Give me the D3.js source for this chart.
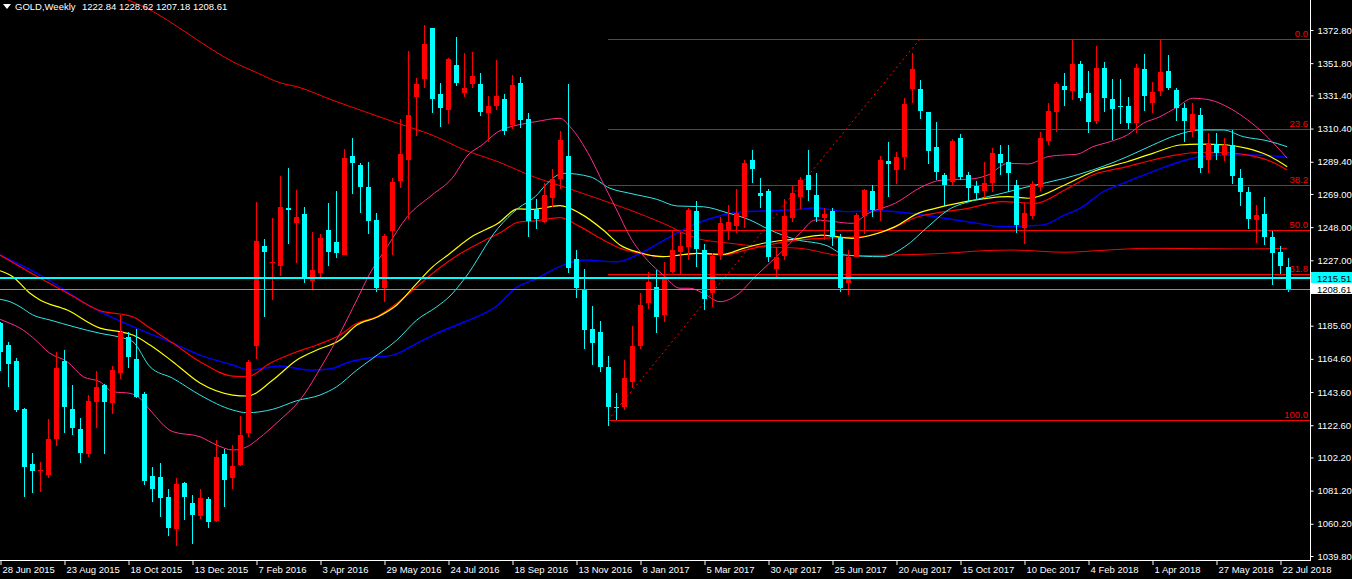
<!DOCTYPE html>
<html><head><meta charset="utf-8">
<script src="https://cdn.jsdelivr.net/npm/d3@7"></script>
<style>
html,body{margin:0;padding:0;background:#000;overflow:hidden;}
svg{display:block;font-family:"Liberation Sans",Arial,sans-serif;}
</style></head><body>
<svg id="c" width="1352" height="579"></svg>
<script>
// ---------- DATA ----------
const symbolName = "GOLD,Weekly";
const headerValues = ["1222.84", "1228.62", "1207.18", "1208.61"];

const opens = [1187.1,1173.4,1163.3,1132.8,1098.0,1093.3,1091.1,1113.9,1163.3,1132.8,1120.2,1104.4,1137.3,1148.0,1136.7,1155.6,1178.4,1164.5,1142.4,1090.4,1089.8,1077.3,1057.1,1086.2,1073.3,1065.3,1076.1,1061.9,1104.4,1089.4,1097.4,1117.9,1172.9,1236.0,1225.5,1223.2,1260.1,1250.8,1256.3,1214.2,1219.2,1246.2,1238.6,1230.6,1293.0,1287.3,1273.4,1252.5,1209.3,1245.6,1277.4,1290.5,1330.6,1342.0,1373.9,1332.3,1322.2,1350.6,1333.1,1338.4,1338.6,1320.4,1324.9,1329.1,1312.7,1339.2,1316.3,1259.3,1251.4,1266.7,1278.3,1292.8,1227.6,1208.2,1183.5,1181.6,1159.6,1134.3,1134.3,1150.1,1172.9,1200.2,1210.1,1192.4,1219.8,1232.0,1235.6,1258.2,1233.5,1206.5,1230.3,1246.2,1248.7,1254.6,1290.5,1269.4,1270.9,1221.3,1229.9,1254.0,1267.2,1281.0,1268.3,1254.0,1258.2,1241.6,1212.4,1229.3,1255.0,1270.9,1258.8,1290.1,1284.2,1292.6,1335.3,1335.3,1320.9,1298.9,1281.0,1276.4,1304.3,1281.0,1274.0,1271.1,1275.7,1294.1,1289.4,1274.7,1247.6,1255.2,1273.6,1302.7,1321.1,1337.5,1334.4,1351.3,1332.7,1315.2,1348.5,1328.9,1324.7,1324.7,1313.7,1347.9,1326.8,1334.4,1346.8,1334.8,1323.2,1308.9,1319.0,1290.5,1300.6,1293.7,1300.0,1278.9,1270.4,1252.5,1256.3,1241.6,1232.1,1222.84];
const highs = [1188.0,1175.3,1165.3,1133.5,1105.0,1099.3,1126.5,1168.9,1170.2,1148.0,1127.2,1141.7,1156.9,1148.5,1160.1,1192.4,1181.4,1183.5,1143.8,1096.1,1098.7,1082.0,1089.2,1086.8,1078.6,1082.4,1077.3,1113.2,1107.5,1110.1,1128.4,1164.1,1263.7,1240.5,1253.6,1280.4,1285.2,1271.5,1260.5,1244.9,1243.6,1263.0,1270.9,1297.5,1304.4,1288.8,1289.4,1256.8,1243.5,1278.9,1316.3,1359.5,1342.6,1375.9,1374.2,1339.0,1355.0,1368.4,1358.4,1358.9,1345.6,1331.0,1353.8,1332.3,1344.3,1343.0,1320.4,1265.6,1275.7,1284.6,1308.9,1338.6,1233.3,1221.5,1198.1,1188.6,1166.4,1142.8,1163.9,1185.4,1206.5,1219.6,1220.9,1226.1,1245.6,1245.1,1259.9,1264.5,1237.1,1231.4,1254.6,1262.0,1271.9,1290.5,1296.8,1279.3,1271.9,1235.6,1265.6,1274.7,1280.0,1296.8,1282.1,1259.9,1259.9,1243.5,1233.5,1256.8,1271.9,1274.7,1293.0,1301.9,1295.6,1329.5,1358.4,1341.1,1320.9,1314.4,1282.1,1303.8,1307.0,1283.1,1277.4,1289.0,1297.9,1300.0,1300.0,1277.8,1263.1,1277.4,1308.0,1326.4,1340.1,1345.4,1366.5,1353.2,1346.8,1362.6,1352.7,1341.6,1341.6,1330.6,1351.3,1357.6,1340.1,1366.5,1357.0,1335.9,1326.4,1326.4,1323.2,1307.4,1307.4,1304.2,1309.5,1284.6,1273.6,1262.0,1266.9,1245.7,1236.0,1228.62];
const lows = [1157.1,1147.0,1131.0,1077.4,1079.9,1080.5,1089.4,1109.6,1117.9,1116.4,1098.9,1102.7,1121.0,1104.4,1129.7,1151.7,1159.0,1140.0,1084.7,1074.2,1064.7,1052.6,1046.3,1062.5,1047.6,1063.4,1057.7,1061.5,1071.0,1082.4,1096.8,1115.3,1164.3,1191.3,1201.9,1217.1,1237.3,1225.5,1212.4,1208.2,1215.0,1223.6,1228.2,1230.3,1269.0,1257.1,1243.7,1207.1,1200.4,1230.3,1272.8,1253.1,1305.9,1335.9,1320.4,1311.6,1313.1,1337.5,1330.6,1336.3,1318.5,1302.1,1322.2,1306.1,1310.0,1311.0,1241.9,1246.6,1250.4,1261.0,1272.0,1219.1,1203.3,1170.8,1160.7,1156.5,1122.3,1125.9,1132.2,1146.0,1170.7,1196.0,1180.8,1188.1,1218.8,1217.7,1227.2,1223.0,1195.5,1197.6,1227.2,1239.9,1244.1,1247.3,1275.7,1260.3,1226.1,1215.0,1227.2,1251.0,1259.3,1264.5,1251.4,1239.9,1236.0,1207.1,1205.0,1228.9,1243.6,1254.6,1252.1,1267.3,1275.3,1284.0,1326.8,1316.3,1288.0,1277.8,1261.6,1274.7,1277.8,1264.1,1265.6,1266.6,1270.4,1281.0,1270.4,1244.1,1237.1,1253.0,1271.0,1300.0,1308.4,1324.7,1328.5,1327.8,1307.4,1313.3,1321.1,1303.2,1313.3,1310.0,1307.8,1321.8,1320.4,1331.0,1334.8,1315.4,1302.1,1304.9,1282.0,1282.5,1290.5,1290.1,1275.3,1261.4,1246.8,1237.8,1236.7,1211.4,1218.3,1207.18];
const closes = [1169.1,1161.5,1132.1,1096.3,1093.8,1094.2,1113.9,1159.0,1134.3,1121.0,1105.0,1137.9,1147.0,1137.3,1157.5,1181.4,1165.8,1140.6,1087.5,1082.4,1076.7,1057.7,1085.6,1077.3,1066.0,1076.7,1061.5,1102.5,1088.1,1096.8,1116.4,1162.8,1239.2,1232.4,1226.1,1260.8,1258.9,1254.6,1216.6,1220.9,1241.3,1232.4,1231.8,1291.6,1288.8,1273.6,1252.0,1209.3,1242.4,1276.4,1294.1,1319.0,1338.4,1363.9,1329.3,1323.6,1354.4,1339.4,1336.1,1343.7,1320.9,1324.9,1331.0,1308.7,1338.0,1315.8,1252.1,1253.0,1268.3,1278.5,1303.2,1222.3,1209.3,1182.9,1174.8,1159.6,1134.3,1133.3,1152.3,1172.6,1198.7,1213.5,1191.3,1215.6,1233.5,1236.2,1258.8,1234.1,1202.5,1229.7,1250.8,1251.4,1256.8,1288.8,1284.8,1267.7,1229.3,1228.9,1255.2,1269.8,1277.8,1271.3,1254.6,1256.3,1241.9,1209.7,1229.3,1255.7,1271.5,1258.8,1290.5,1288.0,1292.6,1326.0,1347.9,1321.7,1296.4,1283.1,1274.7,1302.5,1279.9,1273.0,1269.4,1275.7,1294.7,1288.8,1282.5,1249.3,1257.1,1275.2,1304.6,1321.5,1338.6,1334.6,1351.3,1329.9,1314.7,1348.5,1329.9,1322.8,1323.9,1314.1,1348.5,1331.2,1333.7,1346.4,1335.9,1323.2,1315.4,1319.6,1285.2,1300.6,1295.1,1300.0,1280.6,1270.4,1253.1,1255.7,1241.6,1231.8,1223.6,1208.61];

const dateLabels = ["28 Jun 2015","23 Aug 2015","18 Oct 2015","13 Dec 2015","7 Feb 2016","3 Apr 2016","29 May 2016","24 Jul 2016","18 Sep 2016","13 Nov 2016","8 Jan 2017","5 Mar 2017","30 Apr 2017","25 Jun 2017","20 Aug 2017","15 Oct 2017","10 Dec 2017","4 Feb 2018","1 Apr 2018","27 May 2018","22 Jul 2018"];
const barsPerDateLabel = 8;
const priceTicks = [1372.80,1351.80,1331.40,1310.40,1289.40,1269.00,1248.00,1227.00,1206.60,1185.60,1164.60,1143.60,1122.60,1102.20,1081.20,1060.20,1039.80];

const askPrice = 1215.51, bidPrice = 1208.61;
const fibLevels = [0, 23.6, 38.2, 50.0, 61.8, 100.0];
const fibHigh = 1367.1, fibLow = 1125.9, fibLowBar = 76, fibHighBar = 115;

// moving averages as [bar, value]
const ma200 = [[14,1396.6],[16,1391.8],[18.4,1386.5],[20.9,1379.1],[23.75,1369.6],[26.6,1360.1],[29.1,1352.7],[32.1,1345.8],[35,1339.4],[37.25,1336.7],[41.5,1328.5],[45.6,1321.1],[49.75,1313.7],[54,1306.3],[58.1,1296.8],[62.25,1289.4],[66.9,1279.5],[70.4,1273.6],[74.6,1266.3],[78.75,1258.8],[82.9,1250.4],[87.1,1240.9],[91.25,1237.8],[95.4,1235.6],[100,1234.6],[105.6,1229.9],[111.9,1230.4],[118.1,1231.4],[122.25,1232.9],[126.5,1233.5],[133.1,1232.1],[138.4,1233.5],[143.75,1234.6],[155.4,1234.2],[160.9,1234.6]];
const maPink = [[0,1189.6],[1.25,1187.1],[2.5,1184.1],[4.1,1178.1],[6.25,1168.1],[8.4,1162.8],[10.4,1153.3],[12.5,1150.1],[14.1,1143.8],[16.25,1142.8],[17.5,1139.6],[18.75,1132.2],[21.6,1118.5],[25,1115.3],[27.1,1110.0],[29.1,1106.9],[30.9,1109.0],[32.1,1113.2],[33.75,1120.2],[35,1125.9],[37.5,1138.6],[40.4,1161.8],[42.5,1180.8],[44.6,1201.9],[46.25,1218.8],[48.4,1235.6],[50.9,1254.6],[54,1268.3],[56.5,1278.9],[58.5,1293.7],[60.25,1300.0],[62.25,1308.4],[64.75,1312.7],[66.9,1314.7],[70,1316.9],[71.25,1311.6],[73.75,1292.6],[75.4,1275.7],[77.1,1258.8],[78.75,1241.9],[80.9,1227.2],[82.9,1217.7],[85,1209.3],[86.25,1209.3],[87.9,1206.1],[90,1200.8],[92.1,1205.0],[94.6,1217.7],[97.5,1231.4],[100,1244.1],[101.9,1252.5],[104.4,1251.4],[106.5,1250.4],[108.5,1256.7],[111.9,1263.1],[115.25,1273.6],[117.75,1277.8],[121,1278.3],[123.5,1281.0],[126,1288.4],[128.5,1288.0],[131,1292.6],[133.1,1293.7],[134.6,1294.1],[136.6,1298.9],[138.75,1302.1],[140.9,1306.3],[142.9,1313.7],[145,1317.9],[147.1,1323.9],[149.1,1329.6],[151.25,1328.5],[153.4,1324.2],[155.4,1317.9],[157.5,1309.5],[159.6,1298.9],[160.9,1291.6]];
const maAqua = [[0,1202.3],[1.25,1200.8],[2.5,1197.6],[4.1,1192.4],[6.25,1189.2],[12.5,1180.8],[15,1178.3],[16.6,1175.5],[18.75,1159.6],[21.6,1152.3],[25,1141.7],[29.1,1132.2],[30.9,1130.5],[34.1,1132.7],[37.1,1138.1],[40,1141.7],[42.1,1147.0],[44.6,1157.5],[46.6,1165.0],[49.6,1176.5],[52.1,1189.2],[54.6,1197.6],[56.25,1204.4],[58.1,1215.6],[62.25,1247.3],[64.75,1259.9],[66.9,1267.3],[68.4,1275.7],[70.4,1282.1],[73.75,1279.9],[76.25,1272.6],[78.75,1269.4],[82.1,1265.6],[84.6,1261.4],[87.9,1260.9],[90.9,1257.1],[93.75,1252.5],[96.25,1246.2],[99.4,1240.3],[103.5,1236.0],[105.6,1230.4],[110.25,1229.3],[113.1,1235.6],[116,1248.3],[118.5,1258.8],[121.9,1265.2],[125.25,1269.4],[128.5,1273.6],[133.1,1278.9],[136.6,1284.2],[140.9,1292.6],[144.1,1300.0],[147.1,1306.3],[150,1309.5],[152.9,1309.5],[155.4,1305.3],[158.4,1302.7],[160.9,1298.9]];
const maYellow = [[0,1220.4],[1.6,1216.6],[3.75,1206.1],[5,1201.9],[8.4,1195.5],[12.5,1184.1],[15,1181.8],[16.6,1179.7],[18.75,1173.4],[21.6,1162.8],[25,1149.3],[29.1,1141.7],[30.9,1141.1],[34.1,1151.2],[37.1,1163.9],[39.6,1170.2],[42.5,1176.5],[44.6,1186.0],[47.1,1190.9],[49.6,1198.7],[52.1,1212.4],[54.1,1223.0],[56,1230.4],[59,1242.0],[62.25,1250.4],[64.75,1259.5],[66.5,1259.3],[70,1261.6],[72.5,1256.7],[75.4,1246.2],[77.5,1236.7],[80,1231.8],[82.9,1229.3],[87.1,1231.4],[90.4,1230.8],[92.9,1234.6],[95.4,1237.8],[100,1240.9],[102.75,1243.0],[106.5,1240.9],[109.75,1244.1],[111.9,1248.3],[114.75,1256.7],[116.9,1259.9],[120.25,1263.7],[126,1267.3],[128.5,1266.3],[133.1,1274.7],[136.6,1283.1],[140.9,1289.4],[144.1,1294.7],[147.5,1300.0],[150,1300.6],[153.4,1300.0],[155.9,1297.9],[158.4,1293.7],[160.9,1286.3]];
const maRed = [[0,1230.4],[5,1215.8],[8.4,1206.3],[12.9,1194.5],[15,1193.0],[16.6,1191.3],[18.75,1184.1],[21.6,1174.6],[25,1162.8],[29.1,1153.7],[30.9,1153.3],[33.75,1161.8],[37.1,1169.1],[39.6,1173.4],[42.5,1179.7],[44.6,1187.1],[47.1,1191.3],[49.6,1199.8],[52.1,1210.3],[54.6,1220.9],[57.25,1230.4],[60.25,1238.8],[62.75,1245.1],[64.75,1251.1],[66.9,1251.9],[70,1254.0],[72.5,1248.3],[75.4,1239.9],[77.5,1234.6],[80,1231.4],[82.9,1229.3],[87.1,1231.4],[90.4,1230.4],[92.9,1233.1],[95.4,1236.0],[100,1239.9],[102.75,1240.9],[107.75,1242.0],[111,1246.2],[114.75,1254.6],[117.25,1257.1],[121,1259.9],[125.25,1264.1],[129.4,1263.1],[133.1,1271.5],[136.6,1281.0],[140.9,1286.3],[144.1,1290.5],[147.1,1293.7],[150,1295.4],[153.4,1295.1],[155.9,1293.7],[158.4,1290.5],[160.9,1284.2]];
const maBlue = [[0,1230.4],[5,1217.7],[12.5,1194.5],[16.6,1185.0],[21.6,1174.6],[25,1167.0],[29.1,1160.7],[31.25,1157.5],[35,1160.1],[38.75,1157.5],[41.25,1158.2],[43.75,1162.8],[46.25,1165.3],[49.1,1167.0],[52.1,1174.4],[54.6,1180.8],[58.1,1188.1],[62.25,1198.7],[64.4,1209.3],[66.9,1215.0],[70.4,1224.0],[72.9,1227.2],[77.1,1226.1],[80.4,1232.4],[83.75,1241.9],[87.1,1250.4],[90.4,1255.7],[92.9,1257.8],[95.4,1258.2],[100,1259.3],[101.9,1260.3],[105.6,1257.8],[109.75,1258.4],[114,1256.7],[118.1,1253.6],[122.25,1250.4],[125.25,1248.3],[130.25,1249.3],[133.1,1255.7],[135,1259.9],[137.9,1270.4],[140.9,1276.8],[144.1,1283.1],[147.5,1289.4],[150,1292.6],[153.4,1293.7],[156.6,1293.7],[159.1,1293.1],[160.9,1292.2]];

// ---------- DRAW ----------
const W = 1352, H = 579, plotR = 1310, plotB = 560;
const svg = d3.select("#c");
svg.append("rect").attr("width", W).attr("height", H).attr("fill", "#000");

const x = d3.scaleLinear().domain([0, 161]).range([0, 1288]);
const y = d3.scaleLinear().domain([1039.8, 1372.8]).range([556, 30]);

svg.append("defs").append("clipPath").attr("id", "plot")
  .append("rect").attr("x", 0).attr("y", 0).attr("width", plotR).attr("height", plotB);

const g = svg.append("g").attr("clip-path", "url(#plot)");

// Fibonacci levels
const fibPrice = l => fibHigh - l / 100 * (fibHigh - fibLow);
const fibG = g.append("g");
fibG.selectAll("line").data(fibLevels).join("line")
  .attr("x1", Math.round(x(fibLowBar))).attr("x2", plotR)
  .attr("y1", d => Math.round(y(fibPrice(d))) + 0.5).attr("y2", d => Math.round(y(fibPrice(d))) + 0.5)
  .attr("stroke", "#ff0000").attr("stroke-width", 1).attr("shape-rendering", "crispEdges");
fibG.selectAll("text").data(fibLevels).join("text")
  .attr("x", plotR - 2).attr("y", d => Math.round(y(fibPrice(d))) - 2)
  .attr("text-anchor", "end").attr("fill", "#ff0000").attr("font-size", "9.5px")
  .text(d => d3.format(".1f")(d));
// fib trend line (dotted)
g.append("line")
  .attr("x1", x(fibLowBar)).attr("y1", y(fibLow))
  .attr("x2", x(fibHighBar)).attr("y2", y(fibHigh))
  .attr("stroke", "#ff0000").attr("stroke-width", 1).attr("stroke-dasharray", "2,3");

// moving averages
const lineGen = d3.line().x(d => x(d[0])).y(d => y(d[1])).curve(d3.curveMonotoneX);
const mas = [
  {data: ma200, color: "#ff0000", w: 1},
  {data: maBlue, color: "#0000ff", w: 1.4},
  {data: maRed, color: "#ff0000", w: 1.2},
  {data: maYellow, color: "#ffff00", w: 1.2},
  {data: maAqua, color: "#2fe6e6", w: 1},
  {data: maPink, color: "#ff2a8a", w: 1}
];
g.selectAll("path.ma").data(mas).join("path").attr("class", "ma")
  .attr("d", d => lineGen(d.data)).attr("fill", "none")
  .attr("stroke", d => d.color).attr("stroke-width", d => d.w);

// candles
const idx = d3.range(opens.length);
const bull = i => closes[i] >= opens[i];
const col = i => bull(i) ? "#ff0000" : "#00ffff";
const cg = g.append("g").attr("shape-rendering", "crispEdges");
cg.selectAll("rect.wick").data(idx).join("rect").attr("class", "wick")
  .attr("x", i => Math.round(x(i)))
  .attr("y", i => Math.round(y(highs[i])))
  .attr("width", 1)
  .attr("height", i => Math.max(1, Math.round(y(lows[i])) - Math.round(y(highs[i]))))
  .attr("fill", col);
cg.selectAll("rect.body").data(idx).join("rect").attr("class", "body")
  .attr("x", i => Math.round(x(i)) - 2)
  .attr("y", i => Math.round(y(Math.max(opens[i], closes[i]))))
  .attr("width", 5)
  .attr("height", i => Math.max(1, Math.round(y(Math.min(opens[i], closes[i]))) - Math.round(y(Math.max(opens[i], closes[i])))))
  .attr("fill", col);

// ask / bid lines
g.append("rect").attr("x", 0).attr("width", plotR).attr("y", Math.round(y(askPrice)) - 1).attr("height", 2)
  .attr("fill", "#00ffff").attr("shape-rendering", "crispEdges");
g.append("rect").attr("x", 0).attr("width", plotR).attr("y", Math.round(y(bidPrice))).attr("height", 1)
  .attr("fill", "#8a8f9a").attr("shape-rendering", "crispEdges");

// ---------- AXES ----------
const axG = svg.append("g").attr("shape-rendering", "crispEdges");
axG.append("rect").attr("x", plotR).attr("y", 0).attr("width", 1).attr("height", plotB + 1).attr("fill", "#fff");
axG.append("rect").attr("x", 0).attr("y", plotB).attr("width", plotR + 1).attr("height", 1).attr("fill", "#fff");

// tick labels hidden behind the current-price tags are not drawn
const tagYs = [askPrice, bidPrice].map(p => y(p));
const yAxis = d3.axisRight(y).tickValues(priceTicks).tickSize(3).tickPadding(4)
  .tickFormat(d => tagYs.some(t => Math.abs(t - y(d)) < 9) ? "" : d3.format(".2f")(d));
const yA = svg.append("g").attr("transform", `translate(${plotR + 0.5},0)`).call(yAxis);
yA.select(".domain").remove();
yA.selectAll("line").attr("stroke", "#fff");
yA.selectAll("text").attr("fill", "#fff").attr("font-size", "9.5px").attr("font-family", "'Liberation Sans',Arial,sans-serif");

const dateBars = dateLabels.map((d, i) => i * barsPerDateLabel);
const xAxis = d3.axisBottom(x).tickValues(dateBars).tickSize(5).tickFormat((d, i) => dateLabels[i]);
const xA = svg.append("g").attr("transform", `translate(0.5,${plotB})`).call(xAxis);
xA.select(".domain").remove();
xA.selectAll("line").attr("stroke", "#fff");
xA.selectAll("text").attr("fill", "#fff").attr("font-size", "9.5px").attr("text-anchor", "start")
  .attr("x", 1.5).attr("dy", "0.55em").attr("font-family", "'Liberation Sans',Arial,sans-serif");

// price labels at right
function priceTag(p, bg) {
  const yy = Math.round(y(p));
  svg.append("rect").attr("x", plotR + 1).attr("y", yy - 6).attr("width", W - plotR - 1).attr("height", 11)
    .attr("fill", bg).attr("shape-rendering", "crispEdges");
  svg.append("text").attr("x", plotR + 7).attr("y", yy + 3.5).attr("fill", "#000")
    .attr("font-size", "9.5px").text(d3.format(".2f")(p));
}
priceTag(askPrice, "#00ffff");
priceTag(bidPrice, "#ffffff");

// header
svg.append("path").attr("d", "M3,4 L11,4 L7,9 Z").attr("fill", "#fff");
svg.append("text").attr("x", 15).attr("y", 10).attr("fill", "#fff").attr("font-size", "9.5px").text(symbolName);
svg.append("text").attr("x", 82).attr("y", 10).attr("fill", "#fff").attr("font-size", "9.5px").text(headerValues.join(" "));
</script>
</body></html>
